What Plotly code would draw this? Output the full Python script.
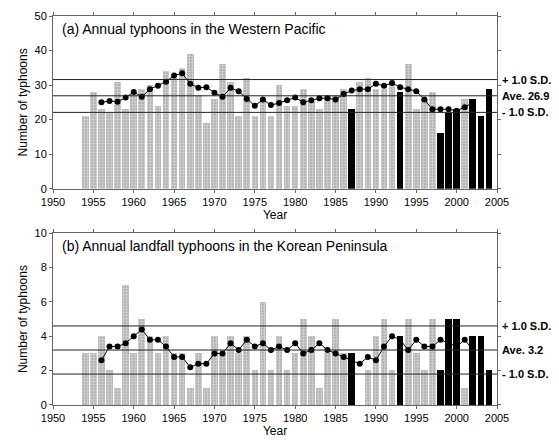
import plotly.graph_objects as go

years = list(range(1954, 2005))

wp_counts = [21, 28, 23, 22, 31, 23, 27, 29, 30, 24,
             34, 32, 35, 39, 27, 19, 26, 36, 31, 21,
             32, 21, 25, 21, 30, 24, 24, 29, 25, 23,
             27, 27, 29, 23, 31, 32, 29, 29, 31, 28,
             36, 23, 26, 28, 16, 22, 23, 26, 26, 21, 29]

kr_counts = [3, 3, 4, 2, 1, 7, 3, 5, 4, 3,
             4, 3, 3, 1, 3, 1, 4, 3, 4, 3,
             4, 2, 6, 2, 4, 2, 3, 5, 4, 1,
             3, 5, 3, 3, 0, 2, 4, 5, 2, 4,
             5, 3, 2, 5, 2, 5, 5, 1, 4, 4, 2]

highlight_years = [1987, 1993, 1998, 1999, 2000, 2002, 2003, 2004]

mean_years = list(range(1956, 2003))
wp_mean = [25.0, 25.4, 25.2, 26.4, 28.0, 26.6, 28.8, 29.8, 31.0, 32.8,
           33.4, 30.4, 29.2, 29.4, 27.8, 26.6, 29.2, 28.2, 26.0, 24.0,
           25.8, 24.2, 24.8, 25.6, 26.4, 25.0, 25.6, 26.2, 26.2, 25.8,
           27.4, 28.4, 28.8, 28.8, 30.4, 29.8, 30.6, 29.4, 28.8, 28.2,
           25.8, 23.0, 23.0, 23.0, 22.6, 23.6, 25.0]
kr_mean = [2.6, 3.4, 3.4, 3.6, 4.0, 4.4, 3.8, 3.8, 3.4, 2.8,
           2.8, 2.2, 2.4, 2.4, 3.0, 3.0, 3.6, 3.2, 3.8, 3.4,
           3.6, 3.2, 3.4, 3.2, 3.6, 3.0, 3.2, 3.6, 3.2, 3.0,
           2.8, 2.6, 2.4, 2.8, 2.6, 3.4, 4.0, 3.8, 3.2, 3.8,
           3.4, 3.4, 3.8, 3.6, 3.4, 3.8, 3.2]

wp_stats = {"plus": 31.6, "ave": 26.9, "minus": 22.1}
kr_stats = {"plus": 4.6, "ave": 3.2, "minus": 1.8}

stat_labels = ["+ 1.0 S.D.", "Ave. {}", "- 1.0 S.D."]
titles = ["(a) Annual typhoons in the Western Pacific",
          "(b) Annual landfall typhoons in the Korean Peninsula"]

FONT = "Arial, Liberation Sans, sans-serif"

fig = go.Figure()


def add_panel(counts, means, stats, xa, ya, title):
    xs = "x" if xa == "xaxis" else "x2"
    ys = "y" if ya == "yaxis" else "y2"
    hatched = [v if y not in highlight_years else None for y, v in zip(years, counts)]
    black = [v if y in highlight_years else None for y, v in zip(years, counts)]
    fig.add_trace(go.Bar(
        x=years, y=hatched, xaxis=xs, yaxis=ys, width=0.82,
        marker=dict(color="#b4b4b4", line=dict(width=0),
                    pattern=dict(shape="+", fgcolor="#f4f4f4", bgcolor="#b4b4b4",
                                 size=3, solidity=0.4, fillmode="overlay")),
        showlegend=False))
    fig.add_trace(go.Bar(
        x=years, y=black, xaxis=xs, yaxis=ys, width=0.82,
        marker=dict(color="black", line=dict(width=0)), showlegend=False))
    for key in ["plus", "ave", "minus"]:
        fig.add_shape(type="line", xref=xs + " domain", yref=ys,
                      x0=0, x1=1, y0=stats[key], y1=stats[key],
                      line=dict(color="#222", width=1))
    fig.add_trace(go.Scatter(
        x=mean_years, y=means, xaxis=xs, yaxis=ys, mode="lines+markers",
        line=dict(color="black", width=1),
        marker=dict(color="black", size=6), showlegend=False))
    for key, lab in zip(["plus", "ave", "minus"], stat_labels):
        fig.add_annotation(xref=xs + " domain", yref=ys, x=1.006, y=stats[key],
                           text="<b>" + lab.format(stats["ave"]) + "</b>",
                           showarrow=False, xanchor="left", yanchor="middle",
                           font=dict(size=11, color="black", family=FONT))
    fig.add_annotation(xref=xs + " domain", yref=ys + " domain", x=0.015, y=0.985,
                       text=title, showarrow=False, xanchor="left", yanchor="top",
                       font=dict(size=14, color="black", family=FONT))


add_panel(wp_counts, wp_mean, wp_stats, "xaxis", "yaxis", titles[0])
add_panel(kr_counts, kr_mean, kr_stats, "xaxis2", "yaxis2", titles[1])

axis_common = dict(showgrid=False, zeroline=False, showline=True, linecolor="#666",
                   linewidth=1, ticks="outside", ticklen=3, tickcolor="#666",
                   mirror="ticks", tickfont=dict(size=11, family=FONT, color="black"))

fig.update_layout(
    width=559, height=445,
    margin=dict(l=53, r=62, t=10, b=32),
    paper_bgcolor="white", plot_bgcolor="white",
    barmode="overlay", bargap=0,
    font=dict(family=FONT, color="black"),
    xaxis=dict(domain=[0, 1], anchor="y", range=[1950, 2005], dtick=5, tick0=1950,
               title=dict(text="Year", font=dict(size=12), standoff=2), **axis_common),
    yaxis=dict(domain=[0.556, 1], anchor="x", range=[0, 50], dtick=10,
               title=dict(text="Number of typhoons", font=dict(size=12), standoff=4),
               **axis_common),
    xaxis2=dict(domain=[0, 1], anchor="y2", range=[1950, 2005], dtick=5, tick0=1950,
                title=dict(text="Year", font=dict(size=12), standoff=2), **axis_common),
    yaxis2=dict(domain=[0, 0.4417], anchor="x2", range=[0, 10], dtick=2,
                title=dict(text="Number of typhoons", font=dict(size=12), standoff=4),
                **axis_common),
)

fig.write_html("out.html")
